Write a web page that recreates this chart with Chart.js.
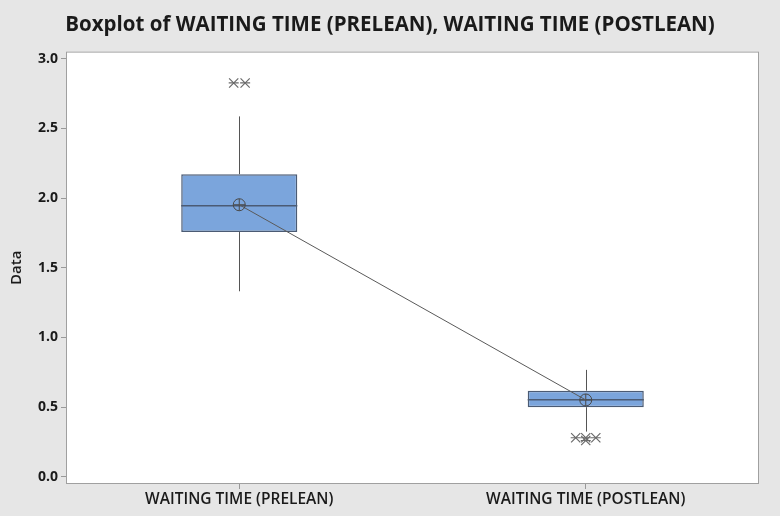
<!DOCTYPE html>
<html>
<head>
<meta charset="utf-8">
<script src="https://cdn.jsdelivr.net/npm/chart.js@4.4.1/dist/chart.umd.min.js"></script>
<style>
  html, body { margin: 0; padding: 0; background: #e6e6e6; }
  #wrap { width: 780px; height: 516px; }
</style>
</head>
<body>
<div id="wrap"><canvas id="boxChart"></canvas></div>
<script>
const categories = ["WAITING TIME (PRELEAN)", "WAITING TIME (POSTLEAN)"];
const q1 = [1.756, 0.499];
const q3 = [2.171, 0.618];
const medians = [1.945, 0.552];
const whiskerLow = [1.331, 0.324];
const whiskerHigh = [2.586, 0.767];
const means = [1.952, 0.551];
// outliers, x is category index plus a small jitter for tied values
const outlierX = [-0.016, 0.017, 0.971, 1.0, 1.029, 1.0];
const outlierY = [2.826, 2.826, 0.28, 0.28, 0.28, 0.26];
const yTicks = [0, 0.5, 1, 1.5, 2, 2.5, 3];

const outlierPoints = outlierX.map((x, i) => ({ x: x, y: outlierY[i] }));

const boxCanvas = document.getElementById("boxChart");
const boxChart = new Chart(boxCanvas, {
  type: "bar",
  data: {
    labels: categories,
    datasets: [
      {
        type: "bar",
        data: q1.map((v, i) => [v, q3[i]]),
        backgroundColor: "#7ba5dc",
        borderColor: "#4b5b74",
        borderWidth: 1.5,
        borderSkipped: false,
        grouped: false,
        categoryPercentage: 1,
        barPercentage: 0.335,
        order: 3,
      },
      {
        type: "line",
        data: means,
        borderColor: "#5a5a5a",
        borderWidth: 1,
        pointStyle: "circle",
        pointRadius: 6,
        pointBorderColor: "#4a4a4a",
        pointBorderWidth: 1,
        pointBackgroundColor: "rgba(0,0,0,0)",
        order: 1,
      },
      {
        type: "line",
        data: means,
        showLine: false,
        pointStyle: "cross",
        pointRadius: 6,
        pointBorderColor: "#4a4a4a",
        pointBorderWidth: 1,
        order: 1,
      },
      {
        type: "scatter",
        xAxisID: "x2",
        data: outlierPoints,
        pointStyle: "crossRot",
        pointRadius: 6.5,
        pointBorderColor: "#6a6a6a",
        pointBorderWidth: 1.2,
        order: 0,
      },
      {
        type: "scatter",
        xAxisID: "x2",
        data: outlierPoints,
        pointStyle: "line",
        pointRadius: 5,
        pointBorderColor: "#6a6a6a",
        pointBorderWidth: 1.2,
        order: 0,
      },
    ],
  },
  options: {
    responsive: true,
    maintainAspectRatio: false,
    animation: false,
    layout: {
      padding: 0,
    },
    plugins: {
      legend: { display: false },
      tooltip: { enabled: false },
      title: {
        display: true,
        text: "Boxplot of WAITING TIME (PRELEAN), WAITING TIME (POSTLEAN)",
        color: "#1a1a1a",
        font: { family: "'Open Sans'", size: 20.5, weight: "bold", lineHeight: 1.2 },
        padding: { top: 13, bottom: 14 },
      },
    },
    scales: {
      x: {
        offset: true,
        grid: {
          display: true,
          drawOnChartArea: false,
          drawTicks: true,
          tickLength: 5,
          color: "#999999",
          offset: false,
        },
        border: { display: false },
        ticks: {
          color: "#1a1a1a",
          padding: 1,
          font: { family: "'Open Sans'", size: 15.5, weight: 600 },
        },
        afterFit: (scale) => {
          scale.height = 32;
        },
      },
      x2: {
        type: "linear",
        display: false,
        offset: false,
        min: -0.5,
        max: 1.5,
      },
      y: {
        min: -0.052,
        max: 3.051,
        afterBuildTicks: (scale) => {
          scale.ticks = yTicks.map((v) => ({ value: v }));
        },
        grid: {
          display: true,
          drawOnChartArea: false,
          drawTicks: true,
          tickLength: 5,
          color: "#999999",
        },
        border: { display: false },
        ticks: {
          color: "#1a1a1a",
          padding: 3,
          font: { family: "'Open Sans'", size: 14, weight: "bold" },
          callback: (v) => Number(v).toFixed(1),
        },
        title: {
          display: true,
          text: "Data",
          color: "#1a1a1a",
          padding: { top: 8, bottom: 4 },
          font: { family: "'Open Sans'", size: 15, weight: 600 },
        },
        afterFit: (scale) => {
          scale.width = 66;
        },
      },
      yRight: {
        position: "right",
        display: true,
        grid: { display: false },
        border: { display: false },
        ticks: { display: false },
        afterFit: (scale) => {
          scale.width = 21;
        },
      },
    },
  },
  plugins: [
    {
      id: "custom_canvas_background_color",
      beforeDraw: (myChart) => {
        const { ctx, chartArea } = myChart;
        ctx.save();
        ctx.globalCompositeOperation = "destination-over";
        ctx.fillStyle = "#e6e6e6";
        ctx.fillRect(0, 0, myChart.width, myChart.height);
        ctx.restore();
        ctx.save();
        ctx.fillStyle = "#ffffff";
        ctx.fillRect(chartArea.left, chartArea.top, chartArea.right - chartArea.left, chartArea.bottom - chartArea.top);
        ctx.restore();
      },
    },
    {
      id: "whiskers_and_medians",
      beforeDatasetsDraw: (myChart) => {
        const { ctx, chartArea } = myChart;
        const xs = myChart.scales.x;
        const ys = myChart.scales.y;
        ctx.save();
        ctx.strokeStyle = "#a0a0a0";
        ctx.lineWidth = 1;
        ctx.strokeRect(chartArea.left + 0.5, chartArea.top + 0.5, chartArea.right - chartArea.left - 1, chartArea.bottom - chartArea.top - 1);
        ctx.strokeStyle = "#555555";
        ctx.beginPath();
        categories.forEach((c, i) => {
          const cx = Math.round(xs.getPixelForValue(i)) + 0.5;
          ctx.moveTo(cx, ys.getPixelForValue(q3[i]));
          ctx.lineTo(cx, ys.getPixelForValue(whiskerHigh[i]));
          ctx.moveTo(cx, ys.getPixelForValue(q1[i]));
          ctx.lineTo(cx, ys.getPixelForValue(whiskerLow[i]));
        });
        ctx.stroke();
        ctx.restore();
      },
      afterDatasetDraw: (myChart, args) => {
        if (args.index !== 0) return;
        const { ctx } = myChart;
        const ys = myChart.scales.y;
        const bars = myChart.getDatasetMeta(0).data;
        ctx.save();
        ctx.strokeStyle = "#4b5b74";
        ctx.lineWidth = 1.5;
        ctx.beginPath();
        bars.forEach((bar, i) => {
          const my = ys.getPixelForValue(medians[i]);
          ctx.moveTo(bar.x - bar.width / 2, my);
          ctx.lineTo(bar.x + bar.width / 2, my);
        });
        ctx.stroke();
        ctx.restore();
      },
    },
  ],
});
</script>
</body>
</html>
